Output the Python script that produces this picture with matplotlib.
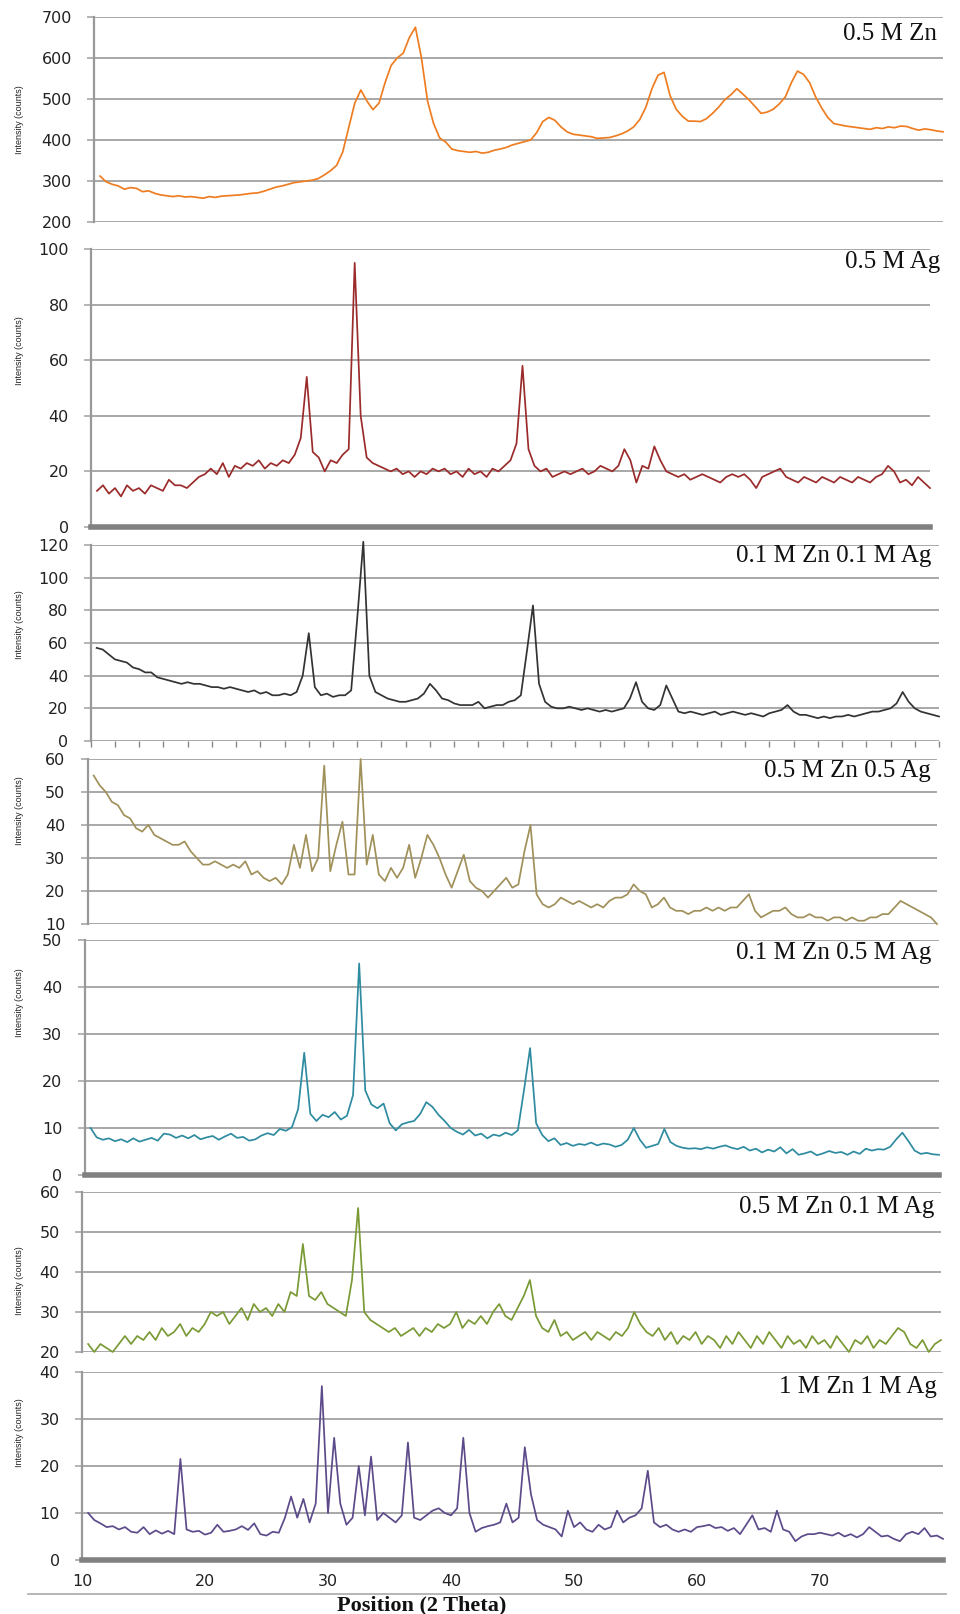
import matplotlib
matplotlib.use('Agg')
import matplotlib.pyplot as plt
from matplotlib.lines import Line2D
import numpy as np

two_theta = np.arange(10.5, 80.01, 0.5)

zn_05 = [312, 298, 292, 288, 280, 284, 282, 274, 276, 270,
         266, 264, 262, 264, 261, 262, 260, 258, 262, 260,
         263, 264, 265, 266, 268, 270, 271, 275, 280, 285,
         288, 292, 296, 298, 300, 302, 306, 315, 325, 338,
         370, 430, 490, 522, 495, 474, 490, 540, 582, 600,
         612, 650, 675, 600, 495, 440, 405, 395, 378, 374,
         372, 370, 372, 368, 370, 375, 378, 382, 388, 392,
         396, 400, 418, 445, 455, 448, 432, 420, 414, 412,
         410, 408, 404, 405, 406, 410, 415, 422, 432, 450,
         480, 525, 558, 565, 508, 475, 458, 446, 446, 445,
         452, 465, 480, 498, 510, 525, 512, 498, 482, 465,
         468, 475, 488, 505, 540, 568, 560, 540, 505, 478,
         455, 440, 437, 434, 432, 430, 428, 426, 430, 428,
         432, 430, 434, 433, 428, 424, 427, 425, 422, 420]

ag_05 = [13, 15, 12, 14, 11, 15, 13, 14, 12, 15,
         14, 13, 17, 15, 15, 14, 16, 18, 19, 21,
         19, 23, 18, 22, 21, 23, 22, 24, 21, 23,
         22, 24, 23, 26, 32, 54, 27, 25, 20, 24,
         23, 26, 28, 95, 40, 25, 23, 22, 21, 20,
         21, 19, 20, 18, 20, 19, 21, 20, 21, 19,
         20, 18, 21, 19, 20, 18, 21, 20, 22, 24,
         30, 58, 28, 22, 20, 21, 18, 19, 20, 19,
         20, 21, 19, 20, 22, 21, 20, 22, 28, 24,
         16, 22, 21, 29, 24, 20, 19, 18, 19, 17,
         18, 19, 18, 17, 16, 18, 19, 18, 19, 17,
         14, 18, 19, 20, 21, 18, 17, 16, 18, 17,
         16, 18, 17, 16, 18, 17, 16, 18, 17, 16,
         18, 19, 22, 20, 16, 17, 15, 18, 16, 14]

zn01_ag01 = [57, 56, 53, 50, 49, 48, 45, 44, 42, 42,
             39, 38, 37, 36, 35, 36, 35, 35, 34, 33,
             33, 32, 33, 32, 31, 30, 31, 29, 30, 28,
             28, 29, 28, 30, 40, 66, 33, 28, 29, 27,
             28, 28, 31, 75, 122, 40, 30, 28, 26, 25,
             24, 24, 25, 26, 29, 35, 31, 26, 25, 23,
             22, 22, 22, 24, 20, 21, 22, 22, 24, 25,
             28, 55, 83, 35, 24, 21, 20, 20, 21, 20,
             19, 20, 19, 18, 19, 18, 19, 20, 26, 36,
             24, 20, 19, 22, 34, 26, 18, 17, 18, 17,
             16, 17, 18, 16, 17, 18, 17, 16, 17, 16,
             15, 17, 18, 19, 22, 18, 16, 16, 15, 14,
             15, 14, 15, 15, 16, 15, 16, 17, 18, 18,
             19, 20, 23, 30, 24, 20, 18, 17, 16, 15]

zn05_ag05 = [55, 52, 50, 47, 46, 43, 42, 39, 38, 40,
             37, 36, 35, 34, 34, 35, 32, 30, 28, 28,
             29, 28, 27, 28, 27, 29, 25, 26, 24, 23,
             24, 22, 25, 34, 27, 37, 26, 30, 58, 26,
             34, 41, 25, 25, 60, 28, 37, 25, 23, 27,
             24, 27, 34, 24, 30, 37, 34, 30, 25, 21,
             26, 31, 23, 21, 20, 18, 20, 22, 24, 21,
             22, 32, 40, 19, 16, 15, 16, 18, 17, 16,
             17, 16, 15, 16, 15, 17, 18, 18, 19, 22,
             20, 19, 15, 16, 18, 15, 14, 14, 13, 14,
             14, 15, 14, 15, 14, 15, 15, 17, 19, 14,
             12, 13, 14, 14, 15, 13, 12, 12, 13, 12,
             12, 11, 12, 12, 11, 12, 11, 11, 12, 12,
             13, 13, 15, 17, 16, 15, 14, 13, 12, 10]

zn01_ag05 = [10, 8, 7.5, 7.8, 7.2, 7.6, 7.0, 7.8, 7.1, 7.5,
             7.9, 7.3, 8.8, 8.6, 7.9, 8.4, 7.8, 8.5, 7.6, 8.0,
             8.3, 7.5, 8.2, 8.8, 7.9, 8.1, 7.3, 7.6, 8.4, 8.9,
             8.5, 9.8, 9.4, 10.2, 14, 26, 13, 11.5, 12.8, 12.3,
             13.4, 11.8, 12.6, 17, 45, 18, 15, 14.2, 15.2, 11,
             9.5, 10.8, 11.2, 11.5, 13, 15.5, 14.5, 12.8, 11.5, 10,
             9.2, 8.6, 9.6, 8.4, 8.8, 7.8, 8.6, 8.3, 9.0, 8.5,
             9.5, 18, 27, 11, 8.5, 7.2, 7.8, 6.4, 6.8, 6.2,
             6.6, 6.4, 6.9, 6.3, 6.7, 6.5, 6.0, 6.4, 7.5, 10,
             7.5, 5.8, 6.2, 6.6, 9.8, 7.0, 6.2, 5.8, 5.6, 5.7,
             5.5, 5.9, 5.6, 6.0, 6.3, 5.8, 5.5, 6.0, 5.2, 5.6,
             4.8, 5.4, 5.0, 5.9, 4.6, 5.5, 4.3, 4.6, 5.0, 4.2,
             4.6, 5.1, 4.7, 4.9, 4.3, 5.0, 4.5, 5.6, 5.2, 5.5,
             5.4, 6.0, 7.6, 9, 7.2, 5.2, 4.5, 4.7, 4.4, 4.3]

zn05_ag01 = [22, 20, 22, 21, 20, 22, 24, 22, 24, 23,
             25, 23, 26, 24, 25, 27, 24, 26, 25, 27,
             30, 29, 30, 27, 29, 31, 28, 32, 30, 31,
             29, 32, 30, 35, 34, 47, 34, 33, 35, 32,
             31, 30, 29, 38, 56, 30, 28, 27, 26, 25,
             26, 24, 25, 26, 24, 26, 25, 27, 26, 27,
             30, 26, 28, 27, 29, 27, 30, 32, 29, 28,
             31, 34, 38, 29, 26, 25, 28, 24, 25, 23,
             24, 25, 23, 25, 24, 23, 25, 24, 26, 30,
             27, 25, 24, 26, 23, 25, 22, 24, 23, 25,
             22, 24, 23, 21, 24, 22, 25, 23, 21, 24,
             22, 25, 23, 21, 24, 22, 23, 21, 24, 22,
             23, 21, 24, 22, 20, 23, 22, 24, 21, 23,
             22, 24, 26, 25, 22, 21, 23, 20, 22, 23]

zn1_ag1 = [10, 8.5, 7.8, 7, 7.2, 6.5, 7.0, 6.0, 5.8, 7.0,
           5.5, 6.3, 5.6, 6.2, 5.5, 21.5, 6.5, 6.0, 6.2, 5.4,
           5.8, 7.5, 6.0, 6.2, 6.5, 7.2, 6.4, 7.8, 5.5, 5.2,
           6.0, 5.8, 9, 13.5, 9, 13, 8, 12, 37, 10,
           26, 12, 7.5, 9, 20, 9.5, 22, 8.5, 10, 9,
           8, 9.5, 25, 9, 8.5, 9.5, 10.5, 11, 10, 9.5,
           11, 26, 10, 6, 6.8, 7.2, 7.5, 8, 12, 8,
           9, 24, 14, 8.5, 7.5, 7, 6.5, 5, 10.5, 7,
           8, 6.5, 6, 7.5, 6.5, 7, 10.5, 8, 9, 9.5,
           11, 19, 8, 7, 7.5, 6.5, 6, 6.5, 6, 7,
           7.2, 7.5, 6.8, 7, 6.2, 6.8, 5.5, 7.5, 9.5, 6.5,
           6.8, 6, 10.5, 6.5, 6, 4, 5, 5.5, 5.5, 5.8,
           5.5, 5.2, 5.8, 5, 5.5, 4.8, 5.5, 7, 6, 5,
           5.2, 4.5, 4, 5.5, 6, 5.5, 6.8, 5, 5.2, 4.5]

sample_labels = ['0.5 M Zn', '0.5 M Ag', '0.1 M Zn 0.1 M Ag', '0.5 M Zn 0.5 Ag',
                 '0.1 M Zn 0.5 M Ag', '0.5 M Zn 0.1 M Ag', '1 M Zn 1 M Ag']
series = [zn_05, ag_05, zn01_ag01, zn05_ag05, zn01_ag05, zn05_ag01, zn1_ag1]
y_ticks = [[200, 300, 400, 500, 600, 700],
           [0, 20, 40, 60, 80, 100],
           [0, 20, 40, 60, 80, 100, 120],
           [10, 20, 30, 40, 50, 60],
           [0, 10, 20, 30, 40, 50],
           [20, 30, 40, 50, 60],
           [0, 10, 20, 30, 40]]
x_tick_labels = [10, 20, 30, 40, 50, 60, 70]

# ---------------- styling / layout ----------------
colors = ['#EE7D22', '#9B2B2B', '#333333', '#A0905A', '#2E8BA0', '#7A9A35', '#5C4A8A']
# pixel boxes: left (x=10), right (x=80), top gridline, bottom gridline
boxes = [(94, 943, 17, 222),
         (91, 930, 249, 527),
         (90.6, 939, 545, 741),
         (87.6, 937, 759, 924),
         (84.5, 939, 940, 1175),
         (82, 941, 1192, 1352),
         (82, 943, 1372, 1560)]
thick_bottom = [False, True, False, False, True, False, True]
label_pos = [(937, 34), (940, 262), (931, 556), (931, 771), (931, 953), (934, 1207), (937, 1387)]
ylabel_y = [120, 351, 625, 811, 1003, 1281, 1433]

W, H = 960, 1614
fig = plt.figure(figsize=(W / 100, H / 100), dpi=100)
GRID = '#a8a8a8'

for i in range(7):
    l, r, t, b = boxes[i]
    ax = fig.add_axes([l / W, 1 - b / H, (r - l) / W, (b - t) / H])
    ax.plot(two_theta, series[i], color=colors[i], lw=1.25, clip_on=False, zorder=3)
    ax.set_xlim(10, 80)
    ax.set_ylim(y_ticks[i][0], y_ticks[i][-1])
    ax.set_yticks(y_ticks[i])
    ax.grid(axis='y', color=GRID, lw=1.4)
    ax.set_axisbelow(True)
    for s in ['top', 'right']:
        ax.spines[s].set_visible(False)
    ax.spines['left'].set_color('#999999')
    ax.spines['left'].set_linewidth(1.6)
    if thick_bottom[i]:
        ax.spines['bottom'].set_color('#808080')
        ax.spines['bottom'].set_linewidth(4)
        ax.spines['bottom'].set_zorder(4)
    else:
        ax.spines['bottom'].set_visible(False)
    ax.tick_params(axis='y', length=5, width=1.2, color=GRID, labelsize=11.5,
                   labelcolor='#222222', pad=11)
    if i == 6:
        ax.set_xticks(x_tick_labels)
        ax.tick_params(axis='x', length=0, labelsize=11.5, labelcolor='#222222', pad=10)
    elif i == 2:
        ax.set_xticks(np.arange(10, 81, 2))
        ax.tick_params(axis='x', length=4, width=1, color='#888888', labelbottom=False)
    else:
        ax.set_xticks([])
    fig.text(label_pos[i][0] / W, 1 - label_pos[i][1] / H, sample_labels[i],
             ha='right', va='center', fontsize=18, family='Liberation Serif', color='#111111')
    fig.text(20 / W, 1 - ylabel_y[i] / H, 'Intensity (counts)', rotation=90,
             ha='center', va='center', fontsize=6.5, family='Liberation Sans', color='#222222')

fig.add_artist(Line2D([28 / W, 946 / W], [1 - 1594 / H, 1 - 1594 / H], color='#b0b0b0', lw=1.3))
fig.text(422 / W, 1 - 1605 / H, 'Position (2 Theta)', ha='center', va='center',
         fontsize=16, fontweight='bold', family='Liberation Serif', color='#111111')

fig.savefig('out.png', dpi=100)
